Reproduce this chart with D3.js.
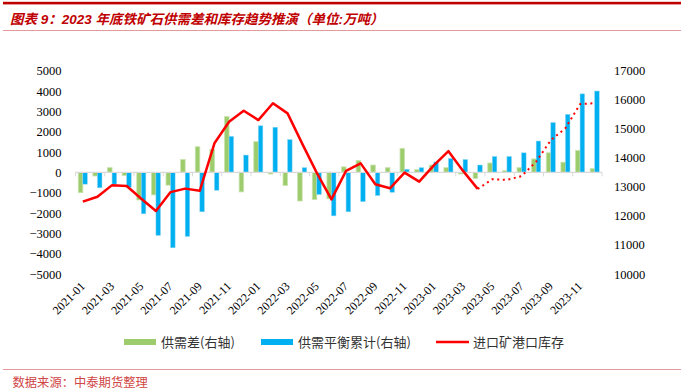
<!DOCTYPE html>
<html>
<head>
<meta charset="utf-8">
<script src="https://cdn.jsdelivr.net/npm/d3@7"></script>
<style>
  body { margin: 0; background: #fff; }
</style>
</head>
<body>
<div id="holder"></div>
<script>
const w = 684;
const h = 390;

// DATA
const months = [
  "2021-01","2021-02","2021-03","2021-04","2021-05","2021-06","2021-07","2021-08","2021-09","2021-10","2021-11","2021-12",
  "2022-01","2022-02","2022-03","2022-04","2022-05","2022-06","2022-07","2022-08","2022-09","2022-10","2022-11","2022-12",
  "2023-01","2023-02","2023-03","2023-04","2023-05","2023-06","2023-07","2023-08","2023-09","2023-10","2023-11","2023-12"
];
const tickLabels = [
  "2021-01","2021-03","2021-05","2021-07","2021-09","2021-11",
  "2022-01","2022-03","2022-05","2022-07","2022-09","2022-11",
  "2023-01","2023-03","2023-05","2023-07","2023-09","2023-11"
];
// 供需差
const supplyGap = [
  -1000, -180, 230, -150, -1360, -1110, -630, 630, 1260, 1130, 2740, -960,
  1510, -80, -650, -1410, -1340, -1300, 270, 580, 360, 230, 1180, 130,
  360, 230, -80, -300, 460, 80, 230, 660, 960, 500, 1080, 180
];
// 供需平衡累计
const balanceCum = [
  -580, -760, -580, -730, -2040, -3100, -3710, -3150, -1940, -880, 1770, 850,
  2290, 2220, 1610, 230, -1090, -2140, -1940, -1440, -1140, -980, 150, 230,
  510, 680, 630, 360, 780, 780, 960, 1540, 2450, 2850, 3860, 4000
];
// 进口矿港口库存 (actual, 2021-01 .. 2023-04)
const stockActual = [
  12490, 12660, 13060, 13030, 12590, 12170, 12820, 12940, 12870, 14500, 15240, 15620,
  15300, 15880, 15530, 14490, 13480, 12570, 13550, 13810, 13090, 12950, 13490, 13180,
  13740, 14230, 13550, 12930
];
// 进口矿港口库存 (projection, 2023-04 .. 2023-12)
const stockForecast = [12930, 13260, 13240, 13370, 13870, 14610, 15020, 15850, 15880];
const leftTicks = [-5000, -4000, -3000, -2000, -1000, 0, 1000, 2000, 3000, 4000, 5000];
const rightTicks = [10000, 11000, 12000, 13000, 14000, 15000, 16000, 17000];

const plotL = 75.5, plotR = 602, plotT = 70.7, plotB = 274;
const serif = "'Liberation Serif','Times New Roman',serif";
const cjk = "'Noto Sans CJK SC','Noto Sans',sans-serif";

// CREATE SVG
const svg = d3.select("#holder")
    .append("svg")
    .attr("width", w)
    .attr("height", h)
    .style("background", "#fff");

// header / footer rules
svg.append("rect").attr("x", 3).attr("y", 1.8).attr("width", 678).attr("height", 2.6).attr("fill", "#C00000");
svg.append("line").attr("x1", 3).attr("x2", 681).attr("y1", 30.5).attr("y2", 30.5)
    .attr("stroke", "#E39A9A").attr("stroke-width", 1);
svg.append("line").attr("x1", 3).attr("x2", 681).attr("y1", 369.5).attr("y2", 369.5)
    .attr("stroke", "#E39A9A").attr("stroke-width", 1);

svg.append("text")
    .attr("x", 10).attr("y", 23.5)
    .attr("font-family", "'Liberation Sans','Noto Sans CJK SC',sans-serif")
    .attr("font-size", 13.5)
    .attr("font-weight", "bold")
    .attr("font-style", "italic")
    .attr("fill", "#C00000")
    .text("图表 9：2023 年底铁矿石供需差和库存趋势推演（单位:万吨）");

svg.append("text")
    .attr("x", 12.5).attr("y", 387)
    .attr("font-family", cjk)
    .attr("font-size", 12.3)
    .attr("fill", "#D04545")
    .text("数据来源：中泰期货整理");

// SCALES
const x = d3.scaleBand().domain(months).range([plotL, plotR]).paddingInner(0.38).paddingOuter(0.19);
const xs = d3.scaleBand().domain(["gap", "cum"]).range([0, x.bandwidth()]);
const yL = d3.scaleLinear().domain([-5000, 5000]).range([plotB, plotT]);
const yR = d3.scaleLinear().domain([10000, 17000]).range([plotB, plotT]);
const cx = d => x(d) + x.bandwidth() / 2;

// AXES
const gL = svg.append("g").attr("transform", `translate(${plotL - 8},0)`)
    .call(d3.axisLeft(yL).tickValues(leftTicks).tickSize(0).tickPadding(6).tickFormat(d3.format("d")));
gL.select(".domain").remove();
gL.selectAll("text").attr("font-family", serif).attr("font-size", 12.5).attr("fill", "#000");

const gR = svg.append("g").attr("transform", `translate(${plotR + 6},0)`)
    .call(d3.axisRight(yR).tickValues(rightTicks).tickSize(0).tickPadding(6).tickFormat(d3.format("d")));
gR.select(".domain").remove();
gR.selectAll("text").attr("font-family", serif).attr("font-size", 12.5).attr("fill", "#000");

const gX = svg.append("g").attr("transform", "translate(0,284)")
    .call(d3.axisBottom(x).tickValues(tickLabels).tickSize(0).tickPadding(0));
gX.select(".domain").remove();
gX.selectAll("text")
    .attr("y", 0).attr("dy", "0.35em")
    .attr("transform", "rotate(-45)")
    .style("text-anchor", "end")
    .attr("font-family", serif).attr("font-size", 12).attr("fill", "#000");

// BARS
const groups = svg.append("g").selectAll("g")
    .data(months)
    .enter()
    .append("g")
    .attr("transform", d => `translate(${x(d)},0)`);

groups.append("rect")
    .attr("x", xs("gap"))
    .attr("width", xs.bandwidth())
    .attr("y", (d, i) => yL(Math.max(0, supplyGap[i])))
    .attr("height", (d, i) => Math.abs(yL(supplyGap[i]) - yL(0)))
    .attr("fill", "#9DCC6C")
    .attr("stroke", "#C8E3AE")
    .attr("stroke-width", 0.8);

groups.append("rect")
    .attr("x", xs("cum"))
    .attr("width", xs.bandwidth())
    .attr("y", (d, i) => yL(Math.max(0, balanceCum[i])))
    .attr("height", (d, i) => Math.abs(yL(balanceCum[i]) - yL(0)))
    .attr("fill", "#00B0F0")
    .attr("stroke", "#8CD6F3")
    .attr("stroke-width", 0.5);

// category axis at zero
svg.append("line")
    .attr("x1", plotL).attr("x2", plotR)
    .attr("y1", yL(0)).attr("y2", yL(0))
    .attr("stroke", "#D9D9D9").attr("stroke-width", 1.3);

const tickPos = months.filter((d, i) => i % 2 === 0).map(d => x(d) - x.step() * x.paddingInner() / 2);
tickPos.push(plotR);
svg.append("g").selectAll("line")
    .data(tickPos)
    .enter()
    .append("line")
    .attr("x1", d => d).attr("x2", d => d)
    .attr("y1", yL(0)).attr("y2", yL(0) + 4)
    .attr("stroke", "#D9D9D9").attr("stroke-width", 1);

// LINES
const line = d3.line().x(d => cx(d[0])).y(d => yR(d[1]));
const actualPts = stockActual.map((v, i) => [months[i], v]);
const forecastPts = stockForecast.map((v, i) => [months[27 + i], v]);

svg.append("path")
    .datum(actualPts)
    .attr("d", line)
    .attr("fill", "none")
    .attr("stroke", "#FF0000")
    .attr("stroke-width", 2.5)
    .attr("stroke-linejoin", "round");

svg.append("path")
    .datum(forecastPts)
    .attr("d", line)
    .attr("fill", "none")
    .attr("stroke", "#FF0000")
    .attr("stroke-width", 2)
    .attr("stroke-dasharray", "2,3.6");

// LEGEND
const legend = [
  { label: "供需差(右轴)", x: 124, type: "bar", color: "#9DCC6C" },
  { label: "供需平衡累计(右轴)", x: 261, type: "bar", color: "#00B0F0" },
  { label: "进口矿港口库存", x: 436, type: "line", color: "#FF0000" }
];
const lg = svg.append("g").selectAll("g")
    .data(legend)
    .enter()
    .append("g")
    .attr("transform", d => `translate(${d.x},342)`);

lg.filter(d => d.type === "bar").append("rect")
    .attr("x", 0).attr("y", -3).attr("width", 32).attr("height", 6)
    .attr("fill", d => d.color);
lg.filter(d => d.type === "line").append("line")
    .attr("x1", 0).attr("x2", 33).attr("y1", 0).attr("y2", 0)
    .attr("stroke", d => d.color).attr("stroke-width", 2.5);
lg.append("text")
    .attr("x", d => d.type === "line" ? 37 : 37)
    .attr("y", 0).attr("dy", "0.35em")
    .attr("font-family", cjk).attr("font-size", 13)
    .attr("fill", "#333")
    .text(d => d.label);
</script>
</body>
</html>
